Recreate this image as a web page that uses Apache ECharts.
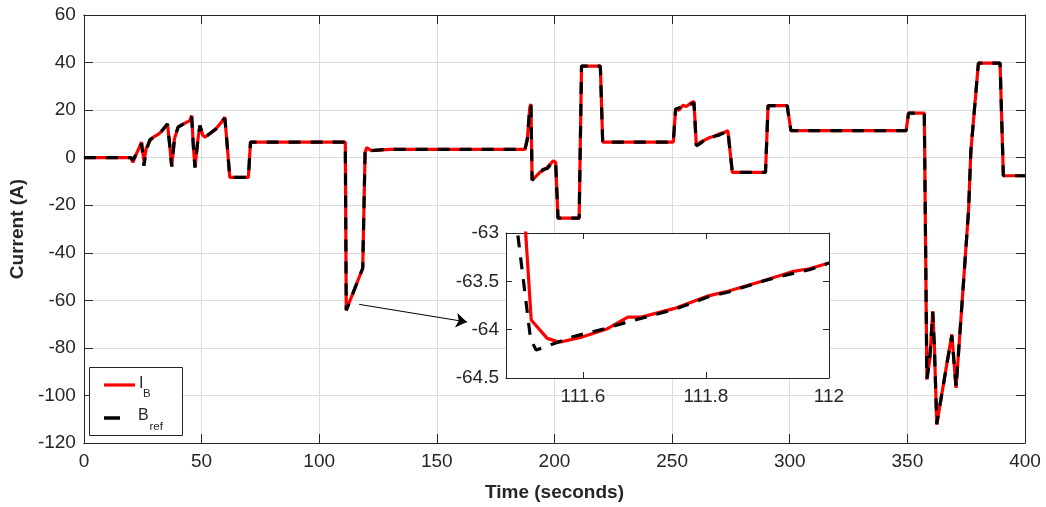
<!DOCTYPE html>
<html>
<head>
<meta charset="utf-8">
<script src="https://cdn.jsdelivr.net/npm/echarts@6/dist/echarts.min.js"></script>
<style>html,body{margin:0;padding:0;background:#fff}#c{width:1046px;height:507px}</style>
</head>
<body>
<div id="c"></div>
<script>
// ---- main chart data ----
var mainT = [0,20,20.8,22.5,24.5,25.5,26.5,28,29.5,31,32.5,35.5,36.5,37.3,38.5,40,42,45,45.8,46.5,47.2,48.5,49.3,50.5,51.4,54,56,58.5,59.9,60.5,62,69.9,70.8,111.1,111.5,118.5,119.5,120.2,122,125,130,187.5,188.5,189.5,190,190.5,191.5,194,195,197,199.5,200.5,201.5,210.5,211.5,219.5,220.5,250.5,251.5,253,254.5,256,258,259.3,260.3,262,264,266,268,270,272,273.7,275.6,289.7,290.8,298.9,300.5,349.5,350.5,357.2,358.3,359.5,360.8,361.5,362.5,364.6,366.5,368.9,370.7,372.9,376,377,380.2,389.4,390.8,400];
var ibMain = [0,0,-2,2,6.5,-1.5,4,7,8.6,9.5,10.5,14.2,5,-3.5,8,12.8,14,15.6,17.7,5,-4,8,13.5,9.5,8.6,10.5,12,15,17,10,-8.3,-8.3,6.5,6.5,-64.1,-46.5,2,4.3,3,3.2,3.5,3.5,8,21,22.6,-9.5,-8.5,-6,-5.5,-4,-1.3,-2,-25.4,-25.4,38.5,38.5,6.5,6.5,20.5,20,22,21.5,23,23.7,5,6.5,7.5,8.5,9,10,10.5,11.4,-6.2,-6.2,21.9,21.9,11.4,11.4,18.7,18.7,-93.3,-85,-64.5,-80,-112.3,-99.6,-88.4,-74.3,-96.8,-65.9,-22.3,3,39.8,39.8,-7.6,-7.6];
var brefMain = [0,0,-1,2,6,-3.4,3,7.5,8.6,9.5,10.5,14.2,5,-3.8,8,12.8,14,15.6,17.2,5,-4.2,8,13.5,9.5,8.6,10.5,12,15,16.5,10,-8.3,-8.3,6.5,6.5,-64.2,-46.5,2,4,3,3.2,3.5,3.5,8,21,22,-9.5,-8,-6.5,-5,-4.5,-1.5,-2,-25.4,-25.4,38.5,38.5,6.5,6.5,20.5,21,21.5,22,22.5,23,5,6,7.5,8,9,9.5,10.5,11.4,-6.2,-6.2,21.9,21.9,11.4,11.4,18.7,18.7,-93,-85,-65,-80,-112,-99.6,-88.4,-74.8,-96.5,-65.9,-22.3,3,39.8,39.8,-7.6,-7.6];

// ---- inset (zoom) data ----
var insetT_ib = [111.505,111.516,111.542,111.562,111.596,111.64,111.673,111.695,111.749,111.804,111.837,111.891,111.94,111.968,112];
var inset_ib = [-62.8,-63.9,-64.09,-64.13,-64.08,-63.99,-63.87,-63.87,-63.78,-63.65,-63.6,-63.5,-63.4,-63.37,-63.31];
var insetT_bref = [111.49,111.515,111.524,111.585,111.63,111.673,111.749,111.804,111.837,111.891,111.94,111.968,112];
var inset_bref = [-62.8,-64.1,-64.21,-64.07,-64.0,-63.92,-63.79,-63.66,-63.61,-63.5,-63.42,-63.38,-63.31];

// axes / annotation
var mainXTicks = {min:0, max:400, interval:50};
var mainYTicks = {min:-120, max:60, interval:20};
var insetXTicks = [111.6, 111.8, 112];
var insetYTicks = {min:-64.5, max:-63, interval:0.5};
var arrowPts = [[117,-61.7],[162.8,-69.1]];

function zip(t, v){ return t.map(function(x,i){return [x, v[i]];}); }

var FONT = 'Liberation Sans, Arial, Helvetica, sans-serif';
var TXT = '#262626';
var AX = '#262626';
var GRIDC = '#dcdcdc';

function boxAxis(common, extra){ return Object.assign({}, common, extra); }

var chart = echarts.init(document.getElementById('c'), null, {renderer:'canvas'});

var mainX = {type:'value', gridIndex:0, min:mainXTicks.min, max:mainXTicks.max, interval:mainXTicks.interval,
  axisLine:{show:true, onZero:false, lineStyle:{color:AX, width:1}},
  axisTick:{show:true, inside:true, length:9, lineStyle:{color:AX}},
  splitLine:{show:true, lineStyle:{color:GRIDC, width:1}}};
var mainY = {type:'value', gridIndex:0, min:mainYTicks.min, max:mainYTicks.max, interval:mainYTicks.interval,
  axisLine:{show:true, onZero:false, lineStyle:{color:AX, width:1}},
  axisTick:{show:true, inside:true, length:9, lineStyle:{color:AX}},
  splitLine:{show:true, lineStyle:{color:GRIDC, width:1}}};

var insX = {type:'value', gridIndex:1, min:111.475, max:112,
  axisLine:{show:true, onZero:false, lineStyle:{color:AX, width:1}},
  axisTick:{show:true, inside:true, length:6, lineStyle:{color:AX}, customValues:insetXTicks},
  splitLine:{show:false}, z:6};
var insY = {type:'value', gridIndex:1, min:insetYTicks.min, max:insetYTicks.max, interval:insetYTicks.interval,
  axisLine:{show:true, onZero:false, lineStyle:{color:AX, width:1}},
  axisTick:{show:true, inside:true, length:6, lineStyle:{color:AX}},
  splitLine:{show:false}, z:6};

var option = {
  animation:false,
  backgroundColor:'#ffffff',
  textStyle:{fontFamily:FONT},
  grid:[
    {left:83, right:21, top:15, bottom:64, show:false},
    {left:506, right:217, top:233, bottom:129, show:true, backgroundColor:'#ffffff', borderWidth:0, z:5}
  ],
  xAxis:[
    boxAxis(mainX, {position:'bottom', name:'Time (seconds)', nameLocation:'middle', nameGap:40,
      nameTextStyle:{fontFamily:FONT, fontSize:19, fontWeight:'bold', color:TXT},
      axisLabel:{show:true, margin:9, fontFamily:FONT, fontSize:19, color:TXT}}),
    boxAxis(mainX, {position:'top', axisLabel:{show:false}, splitLine:{show:false}}),
    boxAxis(insX, {position:'bottom',
      axisLabel:{show:true, margin:9, fontFamily:FONT, fontSize:19, color:TXT, customValues:insetXTicks,
        formatter:function(v){ return (Math.round(v*10)/10).toString(); }}}),
    boxAxis(insX, {position:'top', axisLabel:{show:false}})
  ],
  yAxis:[
    boxAxis(mainY, {position:'left', name:'Current (A)', nameLocation:'middle', nameGap:48,
      nameTextStyle:{fontFamily:FONT, fontSize:19, fontWeight:'bold', color:TXT},
      axisLabel:{show:true, margin:8, fontFamily:FONT, fontSize:19, color:TXT}}),
    boxAxis(mainY, {position:'right', axisLabel:{show:false}, splitLine:{show:false}}),
    boxAxis(insY, {position:'left',
      axisLabel:{show:true, margin:7, fontFamily:FONT, fontSize:19, color:TXT,
        formatter:function(v){ return (Math.round(v*10)/10).toString(); }}}),
    boxAxis(insY, {position:'right', axisLabel:{show:false}})
  ],
  series:[
    {type:'line', xAxisIndex:0, yAxisIndex:0, data:zip(mainT, ibMain), showSymbol:false, symbol:'none',
      lineStyle:{color:'#ff0000', width:3.2}, z:2, silent:true},
    {type:'line', xAxisIndex:0, yAxisIndex:0, data:zip(mainT, brefMain), showSymbol:false, symbol:'none',
      lineStyle:{color:'#000000', width:3.2, type:[12,10]}, z:3, silent:true},
    {type:'line', xAxisIndex:2, yAxisIndex:2, data:zip(insetT_ib, inset_ib), showSymbol:false, symbol:'none',
      lineStyle:{color:'#ff0000', width:3.2}, z:7, clip:true, silent:true},
    {type:'line', xAxisIndex:2, yAxisIndex:2, data:zip(insetT_bref, inset_bref), showSymbol:false, symbol:'none',
      lineStyle:{color:'#000000', width:3.2, type:[12,10]}, z:8, clip:true, silent:true},
    {type:'line', xAxisIndex:0, yAxisIndex:0, data:[], silent:true, z:4,
      markLine:{silent:true, animation:false, symbol:['none','arrow'], symbolSize:11, label:{show:false},
        lineStyle:{color:'#000000', width:1, type:'solid'},
        itemStyle:{color:'#000000'},
        emphasis:{disabled:true},
        data:[[{coord:arrowPts[0]},{coord:arrowPts[1]}]]}}
  ],
  graphic:[
    {type:'rect', shape:{x:89.5, y:367.5, width:93, height:68}, style:{fill:'#ffffff', stroke:'#262626', lineWidth:1}, z:20},
    {type:'line', shape:{x1:104, y1:385, x2:135, y2:385}, style:{stroke:'#ff0000', lineWidth:3.2}, z:21},
    {type:'line', shape:{x1:104, y1:418, x2:120, y2:418}, style:{stroke:'#000000', lineWidth:3.5}, z:21},
    {type:'text', x:139, y:383.5, style:{text:'I', fontFamily:FONT, fontSize:16, fill:TXT, verticalAlign:'middle', align:'left'}, z:21},
    {type:'text', x:143, y:394, style:{text:'B', fontFamily:FONT, fontSize:11.5, fill:TXT, verticalAlign:'middle', align:'left'}, z:21},
    {type:'text', x:138, y:415.5, style:{text:'B', fontFamily:FONT, fontSize:16, fill:TXT, verticalAlign:'middle', align:'left'}, z:21},
    {type:'text', x:149.5, y:427, style:{text:'ref', fontFamily:FONT, fontSize:11.5, fill:TXT, verticalAlign:'middle', align:'left'}, z:21}
  ]
};
chart.setOption(option);
</script>
</body>
</html>
